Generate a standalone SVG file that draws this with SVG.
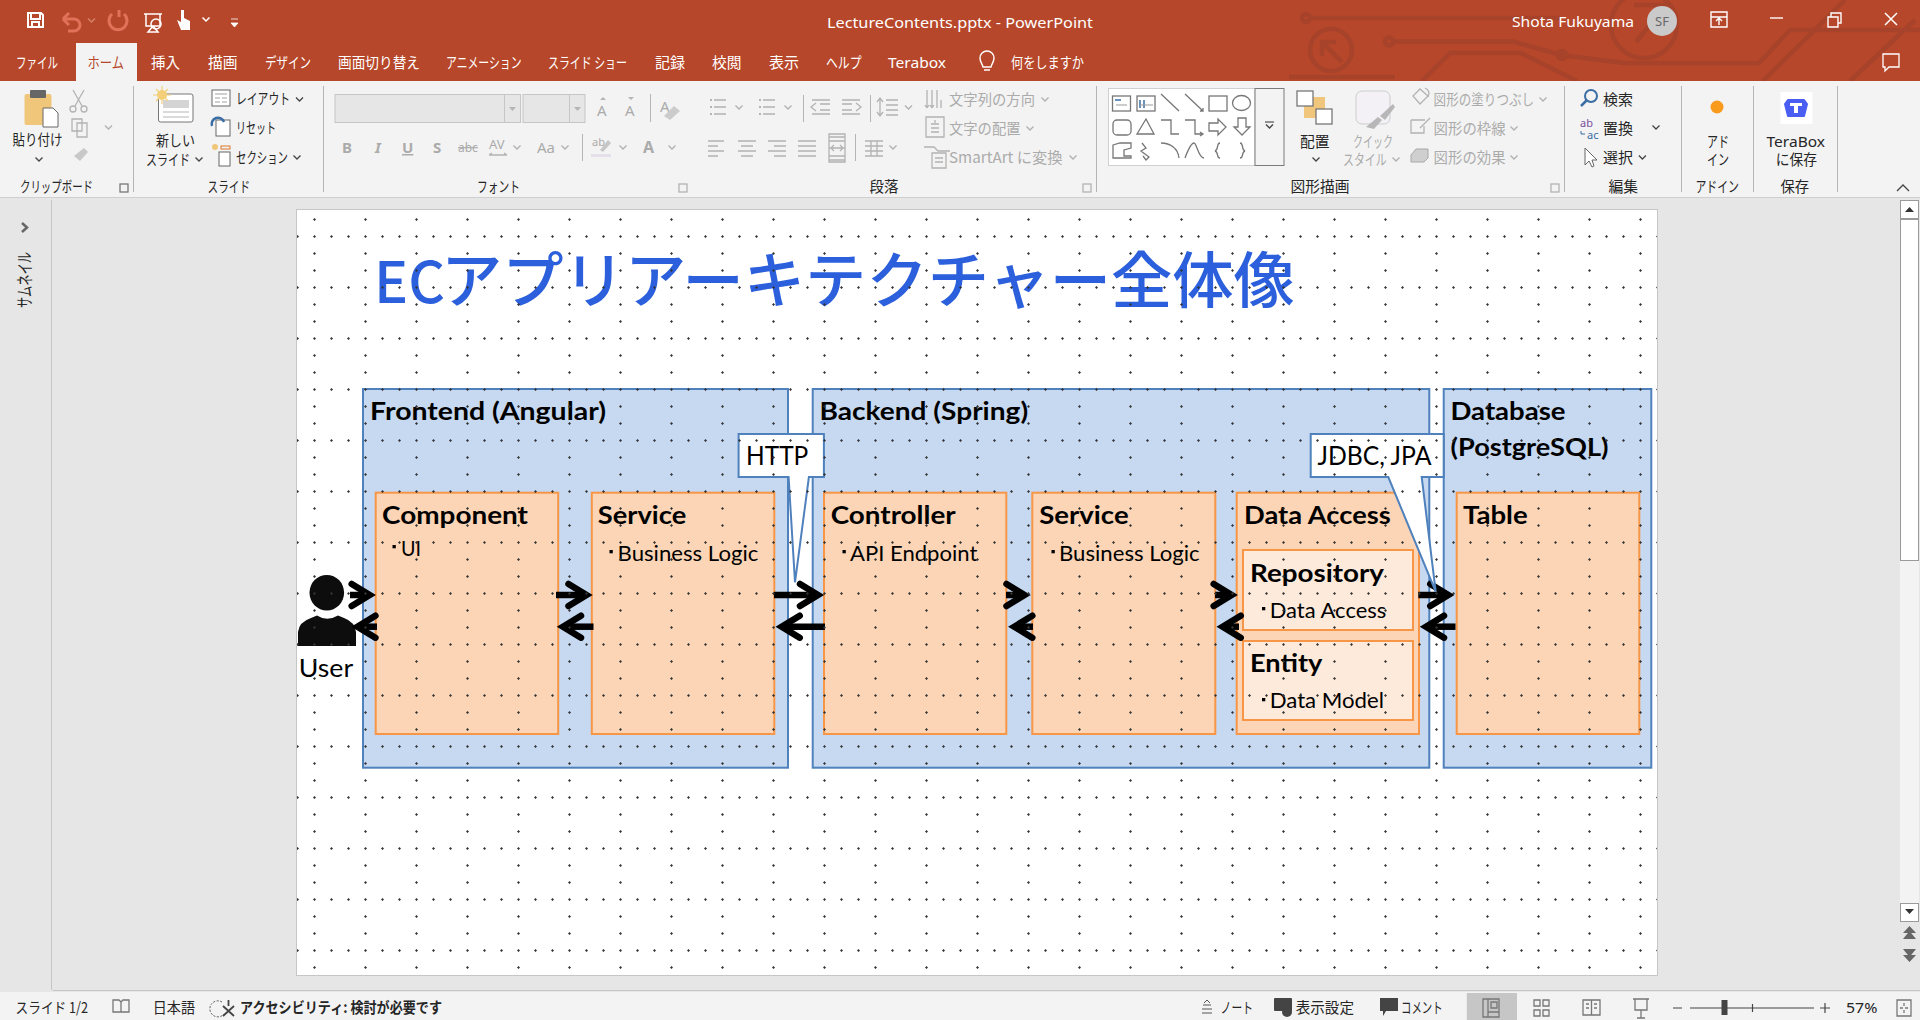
<svg xmlns="http://www.w3.org/2000/svg" width="1920" height="1020" viewBox="0 0 1920 1020">
<style>
text{font-family:"Noto Sans CJK JP","Noto Sans",sans-serif}
.u{font-size:15px;fill:#262626}
.g{font-size:15px;fill:#ababab}
.w{font-size:15px;fill:#fff}
.lat{font-family:"Noto Sans","Noto Sans CJK JP",sans-serif}
.cv{fill:none;stroke:#444;stroke-width:1.3}
.cg{fill:none;stroke:#b0b0b0;stroke-width:1.3}
.sep{stroke:#b5b5b5;stroke-width:1}
.il{fill:none;stroke:#b3b3b3;stroke-width:1.3}
.ik{fill:none;stroke:#777;stroke-width:1.3}
.ci{fill:none;stroke:#a6432a;stroke-width:4.5}
.big{fill:#c6d9f1;stroke:#4f81bd;stroke-width:2}
.box{fill:#fbd5b5;stroke:#f79646;stroke-width:2}
.inn{fill:#fdeada;stroke:#f79646;stroke-width:2}
.call{fill:#fff;stroke:#4f81bd;stroke-width:2}
.h{font-family:Lato,"Noto Sans",sans-serif;font-weight:700;font-size:24.5px;fill:#000}
.b{font-family:Lato,"Noto Sans",sans-serif;font-size:22px;fill:#000}
.c{font-family:Lato,"Noto Sans",sans-serif;font-size:26.5px;fill:#000}
.bul{fill:#000}
.arrow{stroke:#000;stroke-width:6.5;fill:none;marker-end:url(#head)}
</style>
<defs>
<marker id="head" markerUnits="userSpaceOnUse" markerWidth="40" markerHeight="40" viewBox="-30 -20 40 40" refX="0" refY="0" orient="auto">
<path d="M-18,-11 L0,0 L-18,11" fill="none" stroke="#000" stroke-width="6.5" stroke-linecap="round" stroke-miterlimit="10"/>
</marker>
<pattern id="dots" patternUnits="userSpaceOnUse" x="296" y="218" width="51" height="51">
<path d="M1.5,17 L3,18.5 L1.5,20 L0,18.5Z M18.5,17 L20,18.5 L18.5,20 L17,18.5Z M35.5,17 L37,18.5 L35.5,20 L34,18.5Z M18.5,0 L20,1.5 L18.5,3 L17,1.5Z M18.5,34 L20,35.5 L18.5,37 L17,35.5Z" fill="#333"/>
</pattern>
<path id="ch" d="M-3.5,-1.5 L0,2 L3.5,-1.5"/>
<rect id="launch" x="-4" y="-4" width="8" height="8"/>
</defs>

<g id="chrome">
<rect width="1920" height="1020" fill="#e6e6e6"/>
<rect width="1920" height="81" fill="#b7472a"/>
<g class="circuit">
<path class="ci" d="M1310,18H1560M1394,41.500H1513L1561,55L1624,63H1759L1790,30H1920M1422,81L1450,53H1521L1577,81M1289,77H1395M1763,81L1845,0M1850,81L1915,20"/>
<circle class="ci" cx="1306" cy="18" r="4"/><circle class="ci" cx="1389" cy="41.500" r="4"/><circle class="ci" cx="1562" cy="55" r="4"/>
<circle class="ci" cx="1331" cy="50" r="21"/><circle class="ci" cx="1644" cy="25" r="33"/>
<path class="ci" d="M1322,56V42H1336M1322,42L1342,62M1634,5H1666L1636,42"/>
</g>
<rect x="76" y="43" width="61" height="38" fill="#f3f3f3"/>
<rect y="81" width="1920" height="116" fill="#f3f3f3"/>
<path d="M0,197.500H1920" stroke="#cfcfcf"/>
<path d="M51.500,200V990M53,990.500H1920" stroke="#c6c6c6" fill="none"/>
<rect y="992" width="1920" height="28" fill="#f3f3f3"/>

<!-- quick access -->
<path d="M28,13H41L43,15V27H28Z M31,13V19H40V13 M32,27V22H39V27" fill="none" stroke="#fff" stroke-width="2"/>
<path d="M63,19H74A6,6 0 1 1 74,31H68M63,19L69,13M63,19L69,25" fill="none" stroke="#e0725a" stroke-width="3"/>
<use href="#ch" x="91.500" y="20" fill="none" stroke="#d8836c" stroke-width="1.3"/>
<path d="M112,14A9,9 0 1 0 124,14M119,10V17" fill="none" stroke="#e0725a" stroke-width="3"/>
<path d="M144,14H162M146,14V26H160V14M153,26L148,32H158Z" fill="none" stroke="#fff" stroke-width="1.500"/><circle cx="156" cy="24" r="5" fill="none" stroke="#fff" stroke-width="1.500"/>
<path d="M181,10V22L177,20L181,30H190V21L184,18V10Z" fill="#fff"/>
<use href="#ch" x="206" y="19" fill="none" stroke="#fff" stroke-width="1.500"/>
<path d="M231,23H238L234.500,27Z M231,19H238" fill="#fff" stroke="#fff" stroke-width=".8"/>

<!-- title bar texts -->
<text class="w lat" x="827" y="28" textLength="266" lengthAdjust="spacingAndGlyphs">LectureContents.pptx  -  PowerPoint</text>
<text class="w lat" x="1512" y="27" textLength="122" lengthAdjust="spacingAndGlyphs">Shota Fukuyama</text>
<circle cx="1662" cy="21" r="15" fill="#cacaca"/>
<text class="lat" x="1655" y="26" font-size="13" fill="#666">SF</text>
<path d="M1711,12H1727V27H1711ZM1711,17H1727M1719,25V19M1716,21L1719,18L1722,21" fill="none" stroke="#fff" stroke-width="1.400"/>
<path d="M1770,18H1783" stroke="#fff" stroke-width="1.400"/>
<path d="M1828,17H1838V27H1828ZM1831,17V13H1841V23H1838" fill="none" stroke="#fff" stroke-width="1.400"/>
<path d="M1885,13L1897,25M1897,13L1885,25" stroke="#fff" stroke-width="1.500"/>
<path d="M1883,54H1899V67H1889L1885,71V67H1883Z" fill="none" stroke="#fff" stroke-width="1.300"/>

<!-- tabs -->
<text class="w" x="16" y="68" textLength="42" lengthAdjust="spacingAndGlyphs">ファイル</text>
<text x="87.500" y="68" font-size="15" fill="#b7472a" textLength="36.500" lengthAdjust="spacingAndGlyphs">ホーム</text>
<text class="w" x="151" y="68" textLength="29" lengthAdjust="spacingAndGlyphs">挿入</text>
<text class="w" x="208" y="68" textLength="29.500" lengthAdjust="spacingAndGlyphs">描画</text>
<text class="w" x="265" y="68" textLength="46" lengthAdjust="spacingAndGlyphs">デザイン</text>
<text class="w" x="338" y="68" textLength="82" lengthAdjust="spacingAndGlyphs">画面切り替え</text>
<text class="w" x="446" y="68" textLength="75.500" lengthAdjust="spacingAndGlyphs">アニメーション</text>
<text class="w" x="548" y="68" textLength="79" lengthAdjust="spacingAndGlyphs">スライド ショー</text>
<text class="w" x="655" y="68" textLength="30" lengthAdjust="spacingAndGlyphs">記録</text>
<text class="w" x="712" y="68" textLength="29.500" lengthAdjust="spacingAndGlyphs">校閲</text>
<text class="w" x="769" y="68" textLength="30" lengthAdjust="spacingAndGlyphs">表示</text>
<text class="w" x="826" y="68" textLength="35.600" lengthAdjust="spacingAndGlyphs">ヘルプ</text>
<text class="w lat" x="888" y="68" textLength="58" lengthAdjust="spacingAndGlyphs">Terabox</text>
<path d="M983,67C982,63 980,62 980,58A7,7 0 1 1 994,58C994,62 992,63 991,67ZM984,70H990" fill="none" stroke="#fff" stroke-width="1.400"/>
<text class="w" x="1011" y="68" textLength="73" lengthAdjust="spacingAndGlyphs">何をしますか</text>

<!-- ribbon separators -->
<path class="sep" d="M133.500,86V192M323.500,86V192M1096.500,86V192M1564.500,86V192M1681.500,86V192M1753.500,86V192M1837.500,86V192M650.500,94V122M582.500,134V161M803.500,95V122M870.500,95V122M855.500,134V161"/>

<!-- clipboard -->
<rect x="24.500" y="94" width="27" height="31" rx="2" fill="#f0c77a"/>
<rect x="30" y="90" width="16" height="8" rx="1" fill="#666"/>
<path d="M43,108H53L58,113V127H43Z" fill="#fff" stroke="#666"/>
<path d="M73,90L82,106M84,90L75,106" class="il"/><circle class="il" cx="73" cy="109" r="3"/><circle class="il" cx="84" cy="109" r="3"/>
<path class="il" d="M72,119H82V131H72ZM77,123H87V137H77Z"/>
<path d="M74,156L84,148L88,152L80,161Z" fill="#c8c8c8"/>
<use href="#ch" x="108.500" y="127" class="cg"/>
<text class="u" x="12.500" y="145" textLength="50" lengthAdjust="spacingAndGlyphs">貼り付け</text>
<use href="#ch" x="39" y="159" class="cv"/>
<text class="u" x="20" y="192" textLength="73" lengthAdjust="spacingAndGlyphs">クリップボード</text>
<use href="#launch" x="124" y="188" class="ik"/><use href="#launch" x="683" y="188" class="il"/><use href="#launch" x="1087" y="188" class="il"/><use href="#launch" x="1555" y="188" class="il"/>

<!-- slide group -->
<rect x="158.500" y="94" width="34.500" height="28" rx="2" fill="#fff" stroke="#777"/>
<rect x="163" y="100" width="26" height="8" fill="#d4d4d4"/>
<path d="M163,112H189M163,117H189" stroke="#b5b5b5"/>
<circle cx="162" cy="95" r="5" fill="#f4cf7a"/><path d="M162,86V104M153,95H171M156,89L168,101M168,89L156,101" stroke="#f4cf7a" stroke-width="1.200"/>
<text class="u" x="156" y="146" textLength="39" lengthAdjust="spacingAndGlyphs">新しい</text>
<text class="u" x="146" y="165" textLength="44" lengthAdjust="spacingAndGlyphs">スライド</text>
<use href="#ch" x="199" y="159" class="cv"/>
<rect x="212" y="90" width="18" height="16" fill="#fff" stroke="#666"/><path d="M215,94H227M215,98H220M222,98H227M215,102H220M222,102H227" stroke="#a0a0a0"/>
<rect x="216" y="120" width="14" height="16" fill="#fff" stroke="#666"/><path d="M212,126A6,6 0 0 1 224,122" fill="none" stroke="#3a6ea5" stroke-width="2.500"/>
<rect x="219" y="152" width="11" height="14" fill="#fff" stroke="#666"/><rect x="221" y="146" width="9" height="3" fill="none" stroke="#d9772f"/><circle cx="215" cy="147" r="3" fill="#f0c77a"/>
<text class="u" x="236" y="104" textLength="54" lengthAdjust="spacingAndGlyphs">レイアウト</text>
<use href="#ch" x="299.500" y="99" class="cv"/>
<text class="u" x="236" y="133" textLength="40" lengthAdjust="spacingAndGlyphs">リセット</text>
<text class="u" x="236" y="163" textLength="52" lengthAdjust="spacingAndGlyphs">セクション</text>
<use href="#ch" x="297" y="157" class="cv"/>
<text class="u" x="207.600" y="192" textLength="42.400" lengthAdjust="spacingAndGlyphs">スライド</text>

<!-- font group -->
<rect x="335" y="94.500" width="185.500" height="28" fill="#e6e6e6" stroke="#c6c6c6"/>
<rect x="523" y="94.500" width="62" height="28" fill="#e6e6e6" stroke="#c6c6c6"/>
<path d="M504.500,95V122M569.500,95V122" stroke="#c6c6c6"/>
<path d="M509,107H516L512.500,111Z M574,107H581L577.500,111Z" fill="#b5b5b5"/>
<text class="g lat" x="597" y="116">A</text><text class="g lat" x="625" y="116">A</text>
<path d="M600,100L603,97L606,100ZM628,97L631,100L634,97Z" fill="#b5b5b5"/>
<text class="g lat" x="660" y="112">A</text><path d="M664,116L674,106L680,111L670,120Z" fill="#cbcbcb"/>
<text class="g lat" x="342" y="153" font-weight="700">B</text>
<text class="g lat" x="375" y="153" font-style="italic" font-weight="700">I</text>
<text class="g lat" x="402" y="153" font-weight="700" text-decoration="underline">U</text>
<text class="g lat" x="433" y="153" font-weight="700">S</text>
<text class="g lat" x="458" y="152" style="font-size:12px" text-decoration="line-through">abc</text>
<text class="g lat" x="489" y="149" style="font-size:13px">AV</text>
<text class="g lat" x="537" y="153">Aa</text>
<text class="g lat" x="592" y="146" style="font-size:11px">ab</text>
<text class="g lat" x="643" y="153" font-weight="700" style="font-size:16px">A</text>
<path class="il" d="M489,155H507M489,155L492,153M507,155L504,153"/>
<path d="M591,154H611V157H591Z" fill="#e4dfe8"/><path d="M600,150L608,140L611,143L603,152Z" fill="#c6c6c6"/>
<use href="#ch" x="517" y="147" class="cg"/><use href="#ch" x="565" y="147" class="cg"/><use href="#ch" x="623" y="147" class="cg"/><use href="#ch" x="672" y="147" class="cg"/>
<text class="u" x="477" y="192" textLength="43" lengthAdjust="spacingAndGlyphs">フォント</text>

<!-- paragraph group -->
<g class="il">
<path d="M714,100H726M714,107H726M714,114H726M763,100H775M763,107H775M763,114H775"/>
<path d="M812,100H830M812,114H830M820,104H830M820,110H830M816,103L811,107L816,111M842,100H860M842,114H860M842,104H852M842,110H852M856,103L861,107L856,111"/>
<path d="M880,99V115M877,102L880,98L883,102M877,112L880,116L883,112M886,100H898M886,105H898M886,110H898M886,115H898"/>
<path d="M708,141H724M708,146H718M708,151H724M708,156H718M738,141H756M741,146H753M738,151H756M741,156H753M768,141H786M774,146H786M768,151H786M774,156H786M798,141H816M798,146H816M798,151H816M798,156H816"/>
<path d="M829,137H845M829,141H845M829,156H845M829,160H845M829,148H845M831,148L834,145M831,148L834,151M843,148L840,145M843,148L840,151M829,134V162H845V134Z"/>
<path d="M865,141H883M865,146H883M865,151H883M865,156H883M871,141V156M877,141V156"/>
<path d="M927,90V108M932,90V108M937,90V108M941,100V108M927,108L925,105M927,108L929,105M932,108L930,105M932,108L934,105"/>
<path d="M926,117H944V137H926ZM931,124H939M931,128H939M931,132H939M935,120V123"/>
<path d="M924,147L934,147L938,151H950M932,153H946V168H932ZM935,158H943M935,162H943"/>
</g>
<path d="M710,100H712M710,107H712M710,114H712M759,100H761M759,107H761M759,114H761" stroke="#b3b3b3" stroke-width="2"/>
<use href="#ch" x="739" y="107" class="cg"/><use href="#ch" x="788" y="107" class="cg"/><use href="#ch" x="908.500" y="107" class="cg"/><use href="#ch" x="893" y="147" class="cg"/><use href="#ch" x="1045" y="99" class="cg"/><use href="#ch" x="1030" y="128" class="cg"/><use href="#ch" x="1073" y="157" class="cg"/>
<text class="g" x="949" y="105" textLength="86" lengthAdjust="spacingAndGlyphs">文字列の方向</text>
<text class="g" x="949" y="134" textLength="71.500" lengthAdjust="spacingAndGlyphs">文字の配置</text>
<text class="g" x="949" y="163" textLength="113.500" lengthAdjust="spacingAndGlyphs">SmartArt に変換</text>
<text class="u" x="869.600" y="192" textLength="29" lengthAdjust="spacingAndGlyphs">段落</text>

<!-- shapes gallery -->
<rect x="1108.500" y="88.500" width="146.500" height="77" fill="#fff" stroke="#d0d0d0"/>
<rect x="1255" y="88.500" width="29" height="77" fill="#f3f3f3" stroke="#7a7a7a"/>
<path d="M1265,122H1274" stroke="#333"/><use href="#ch" x="1269.500" y="126" class="cv"/>
<g class="ik">
<rect x="1112.500" y="96" width="18" height="15"/><rect x="1137" y="96" width="18" height="15"/>
<path d="M1161,94L1179,111M1185,94L1203,111M1200,111H1203V108"/>
<rect x="1209" y="96" width="18" height="15"/><ellipse cx="1241.500" cy="103" rx="9" ry="7.500"/>
<rect x="1113" y="120" width="18" height="15" rx="4"/><path d="M1137,134L1146,119L1154,134Z"/>
<path d="M1161,120H1171V134H1179M1185,120H1195V134H1202M1200,132L1203,134L1200,136"/>
<path d="M1209,123H1218V119L1226,127L1218,135V131H1209ZM1238,118H1246V127H1250L1242,135L1234,127H1238Z"/>
<path d="M1113,145L1120,143H1131V148L1124,150V156H1131V158H1113ZM1142,143L1146,148L1141,151L1149,157L1146,160L1143,156M1161,143C1170,143 1178,148 1179,158M1185,158C1188,150 1191,143 1194,143C1197,143 1198,158 1204,158"/>
<path d="M1220,143C1216,143 1219,150 1215,151C1219,152 1216,158 1220,158M1240,143C1244,143 1241,150 1245,151C1241,152 1244,158 1240,158"/>
</g>
<path d="M1115,100H1121M1140,100V108M1144,100V108" stroke="#3a6ea5" stroke-width="1.500"/>
<path d="M1116,105H1127M1140,105H1153" stroke="#999"/>

<rect x="1304" y="97" width="21" height="21" fill="#efc67c"/>
<rect x="1297" y="91" width="16" height="15" fill="#fff" stroke="#777" stroke-width="1.300"/>
<rect x="1316" y="109" width="16" height="15" fill="#fff" stroke="#777" stroke-width="1.300"/>
<text class="u" x="1300" y="147" textLength="29.500" lengthAdjust="spacingAndGlyphs">配置</text>
<use href="#ch" x="1316" y="159" class="cv"/>
<rect x="1356" y="91" width="34" height="33" rx="6" fill="#f3f0f6" stroke="#cdcdcd"/>
<path d="M1366,127L1378,117L1382,120L1374,129ZM1380,116L1393,104L1395,107L1385,120Z" fill="#b7b7b7"/>
<text class="g" x="1353" y="147" textLength="40" lengthAdjust="spacingAndGlyphs">クイック</text>
<text class="g" x="1343" y="165" textLength="43.600" lengthAdjust="spacingAndGlyphs">スタイル</text>
<use href="#ch" x="1396" y="159" class="cg"/>
<path class="il" d="M1413,96L1420,89L1428,96L1420,104Z"/><path d="M1425,88A6,6 0 0 1 1428,97" class="il"/>
<path class="il" d="M1411,120H1425M1411,120V133H1424V126M1420,128L1430,118"/>
<path d="M1411,155L1416,149H1428V158L1424,162H1411Z" fill="#cfcfcf" stroke="#a8a8a8"/>
<text class="g" x="1433.600" y="105" textLength="100.400" lengthAdjust="spacingAndGlyphs">図形の塗りつぶし</text>
<text class="g" x="1433.600" y="134" textLength="72" lengthAdjust="spacingAndGlyphs">図形の枠線</text>
<text class="g" x="1433.600" y="163" textLength="72" lengthAdjust="spacingAndGlyphs">図形の効果</text>
<use href="#ch" x="1543" y="99" class="cg"/><use href="#ch" x="1514" y="128" class="cg"/><use href="#ch" x="1514" y="157" class="cg"/>
<text class="u" x="1290.600" y="192" textLength="59" lengthAdjust="spacingAndGlyphs">図形描画</text>

<!-- edit group -->
<circle cx="1591" cy="96" r="6" fill="none" stroke="#3a6ea5" stroke-width="2"/><path d="M1586.500,100.500L1581,106" stroke="#3a6ea5" stroke-width="2.500"/>
<text class="lat" x="1580" y="127" font-size="11" fill="#7a4f9d">ab</text>
<text class="lat" x="1587" y="139" font-size="11" fill="#3a6ea5">ac</text>
<path d="M1581,131V134H1585" fill="none" stroke="#3a6ea5"/>
<path d="M1585,148V165L1589,161L1592,167L1594,166L1592,160H1597Z" fill="#fff" stroke="#666"/>
<text class="u" x="1603" y="105" textLength="30" lengthAdjust="spacingAndGlyphs">検索</text>
<text class="u" x="1603" y="134" textLength="30" lengthAdjust="spacingAndGlyphs">置換</text>
<text class="u" x="1603" y="163" textLength="30" lengthAdjust="spacingAndGlyphs">選択</text>
<use href="#ch" x="1656" y="127" class="cv"/><use href="#ch" x="1642.400" y="157" class="cv"/>
<text class="u" x="1608.400" y="192" textLength="29.600" lengthAdjust="spacingAndGlyphs">編集</text>
<circle cx="1717" cy="107" r="6.500" fill="#f89a1c"/>
<text class="u" x="1707" y="147" textLength="22" lengthAdjust="spacingAndGlyphs">アド</text>
<text class="u" x="1707" y="165" textLength="22" lengthAdjust="spacingAndGlyphs">イン</text>
<text class="u" x="1695.400" y="192" textLength="43.600" lengthAdjust="spacingAndGlyphs">アドイン</text>
<rect x="1780.400" y="92" width="32" height="32" fill="#fff"/>
<path d="M1788,100H1804L1807,104L1804,116H1788L1785,104Z" fill="#4a5ef2" stroke="#4a5ef2" stroke-width="2" stroke-linejoin="round"/>
<path d="M1790,103H1802V106H1798V113H1794V106H1790Z" fill="#fff"/>
<text class="u lat" x="1766.600" y="147" textLength="58.400" lengthAdjust="spacingAndGlyphs">TeraBox</text>
<text class="u" x="1775.700" y="165" textLength="41.300" lengthAdjust="spacingAndGlyphs">に保存</text>
<text class="u" x="1780.400" y="192" textLength="28.600" lengthAdjust="spacingAndGlyphs">保存</text>
<path d="M1897,191L1903,185L1909,191" fill="none" stroke="#444" stroke-width="1.300"/>

<!-- thumbnails pane -->
<path d="M22,223L27,227.500L22,232" fill="none" stroke="#666" stroke-width="2.500"/>
<text class="u" style="font-size:17px" transform="translate(31 308) rotate(-90)" textLength="56" lengthAdjust="spacingAndGlyphs">サムネイル</text>

<!-- scrollbar -->
<rect x="1900" y="200" width="19" height="722" fill="#f3f3f3"/>
<rect x="1900.500" y="200.500" width="18" height="18" fill="#fff" stroke="#9a9a9a"/>
<rect x="1900.500" y="219.500" width="18" height="341" fill="#fff" stroke="#9a9a9a"/>
<rect x="1900.500" y="903.500" width="18" height="18" fill="#fff" stroke="#9a9a9a"/>
<path d="M1905,212H1914L1909.500,207ZM1905,909H1914L1909.500,914Z" fill="#333"/>
<path d="M1909.500,926L1916,933H1903ZM1909.500,931L1916,939H1903ZM1909.500,962L1916,955H1903ZM1909.500,957L1916,949H1903Z" fill="#666"/>

<!-- status bar -->
<text class="u" x="15.600" y="1013" textLength="72.400" lengthAdjust="spacingAndGlyphs">スライド 1/2</text>
<text class="u" x="152.700" y="1013" textLength="42.300" lengthAdjust="spacingAndGlyphs">日本語</text>
<text class="u" x="240" y="1013" font-weight="700" textLength="202" lengthAdjust="spacingAndGlyphs">アクセシビリティ: 検討が必要です</text>
<text class="u" x="1220.600" y="1013" textLength="32.400" lengthAdjust="spacingAndGlyphs">ノート</text>
<text class="u" x="1295.700" y="1013" textLength="58.300" lengthAdjust="spacingAndGlyphs">表示設定</text>
<text class="u" x="1401" y="1013" textLength="41.600" lengthAdjust="spacingAndGlyphs">コメント</text>
<text class="u lat" x="1846" y="1013" textLength="31.400" lengthAdjust="spacingAndGlyphs">57%</text>
<path class="ik" d="M113,1000H119L121,1002L123,1000H129V1012H113ZM121,1002V1012"/>
<path d="M222,1002A8,8 0 1 0 224,1014" fill="none" stroke="#555" stroke-dasharray="2 1.500"/>
<path d="M223,1006L234,1016M234,1006L223,1016M228.500,1000V1006" stroke="#444" stroke-width="1.800"/>
<path d="M1203,1005H1211M1202,1009H1212M1202,1013H1212M1204,1003L1207,1000L1210,1003" stroke="#555" fill="none"/>
<rect x="1274" y="998" width="18" height="13" rx="1" fill="#444"/><circle cx="1287" cy="1012" r="5" fill="#444"/>
<path d="M1380,998H1398V1011H1386L1383,1016V1011H1380Z" fill="#444"/>
<rect x="1466.800" y="993" width="50.200" height="27" fill="#c6c6c6"/>
<g class="ik">
<path d="M1483,999H1499V1017H1483ZM1488,999V1017M1488,1012H1499M1491,1002H1497V1008H1491Z"/>
<path d="M1534,1000H1540V1006H1534ZM1543,1000H1549V1006H1543ZM1534,1010H1540V1016H1534ZM1543,1010H1549V1016H1543Z"/>
<path d="M1583,1000H1600V1015H1583ZM1591.500,1000V1015M1586,1004H1589M1586,1008H1589M1594,1004H1597M1594,1008H1597"/>
<path d="M1633,999H1649M1635,999V1010H1647V999M1641,1010V1018M1637,1018H1645"/>
<path d="M1897,1000H1911V1016H1897ZM1904,1003V1006M1904,1010V1013M1900,1008H1903M1905,1008H1908"/>
</g>
<path d="M1673,1008H1682M1690,1008H1814M1752.500,1004V1012M1820,1008H1830M1825,1003V1013" stroke="#444" stroke-width="1.200"/>
<rect x="1721.500" y="1000" width="6" height="15" fill="#444"/>

<!-- slide -->
<rect x="296.500" y="209.500" width="1361" height="766" fill="#fff" stroke="#c6c6c6"/>
</g>

<text id="slide-title" y="303" font-weight="500" fill="#2b5fdc"><tspan x="374" font-size="57">EC</tspan><tspan x="441" font-size="61.300">アプリアーキテクチャー全体像</tspan></text>

<g id="frontend">
<rect class="big" x="363" y="389" width="425" height="378.700"/>
<text class="h" x="370" y="420" textLength="236" lengthAdjust="spacingAndGlyphs">Frontend (Angular)</text>
</g>
<g id="backend">
<rect class="big" x="812.700" y="389" width="616.600" height="378.700"/>
<text class="h" x="819.500" y="420" textLength="208.600" lengthAdjust="spacingAndGlyphs">Backend (Spring)</text>
</g>
<g id="database">
<rect class="big" x="1443.700" y="389" width="207.600" height="378.700"/>
<text class="h" x="1450.500" y="420" textLength="115" lengthAdjust="spacingAndGlyphs">Database</text>
<text class="h" x="1450.500" y="456" textLength="158" lengthAdjust="spacingAndGlyphs">(PostgreSQL)</text>
</g>
<g id="component">
<rect class="box" x="375.700" y="492.700" width="182.500" height="241.300"/>
<text class="h" x="382" y="524" textLength="146" lengthAdjust="spacingAndGlyphs">Component</text>
<rect class="bul" x="392.500" y="545" width="3.300" height="3.300"/>
<text class="b" x="401" y="555.700" textLength="20" lengthAdjust="spacingAndGlyphs">UI</text>
</g>
<g id="service-front">
<rect class="box" x="591.800" y="492.700" width="182.500" height="241.300"/>
<text class="h" x="597.800" y="524" textLength="88.400" lengthAdjust="spacingAndGlyphs">Service</text>
<rect class="bul" x="609.500" y="550" width="3.300" height="3.300"/>
<text class="b" x="617.600" y="560.700" textLength="140.700" lengthAdjust="spacingAndGlyphs">Business Logic</text>
</g>
<g id="controller">
<rect class="box" x="824" y="492.700" width="182.300" height="241.300"/>
<text class="h" x="830.700" y="524" textLength="125" lengthAdjust="spacingAndGlyphs">Controller</text>
<rect class="bul" x="842.500" y="550" width="3.300" height="3.300"/>
<text class="b" x="850" y="560.700" textLength="127.300" lengthAdjust="spacingAndGlyphs">API Endpoint</text>
</g>
<g id="service-back">
<rect class="box" x="1032.300" y="492.700" width="183" height="241.300"/>
<text class="h" x="1039.300" y="524" textLength="89.300" lengthAdjust="spacingAndGlyphs">Service</text>
<rect class="bul" x="1051.500" y="550" width="3.300" height="3.300"/>
<text class="b" x="1059" y="560.700" textLength="140.700" lengthAdjust="spacingAndGlyphs">Business Logic</text>
</g>
<g id="data-access">
<rect class="box" x="1236.700" y="492.700" width="182.300" height="241.300"/>
<text class="h" x="1244" y="524" textLength="146.700" lengthAdjust="spacingAndGlyphs">Data Access</text>
</g>
<g id="repository">
<rect class="inn" x="1243" y="550" width="170" height="80"/>
<text class="h" x="1250" y="582" textLength="134" lengthAdjust="spacingAndGlyphs">Repository</text>
<rect class="bul" x="1262" y="607" width="3.300" height="3.300"/>
<text class="b" x="1269.700" y="618.300" textLength="116.600" lengthAdjust="spacingAndGlyphs">Data Access</text>
</g>
<g id="entity">
<rect class="inn" x="1243" y="641" width="170" height="79"/>
<text class="h" x="1250" y="672" textLength="72.300" lengthAdjust="spacingAndGlyphs">Entity</text>
<rect class="bul" x="1262" y="698" width="3.300" height="3.300"/>
<text class="b" x="1269.700" y="708.300" textLength="114.300" lengthAdjust="spacingAndGlyphs">Data Model</text>
</g>
<g id="table">
<rect class="box" x="1456.700" y="492.700" width="182.600" height="241.300"/>
<text class="h" x="1463" y="524" textLength="64.700" lengthAdjust="spacingAndGlyphs">Table</text>
</g>
<g id="user">
<ellipse cx="326.800" cy="592.700" rx="17.300" ry="17.800" fill="#0d0d0d"/>
<path d="M298,646V632Q299,622 311,618L317,615.500Q327,622 338,615.500L344,618Q355,622 356,632V646Z" fill="#0d0d0d"/>
<text class="c" style="font-size:24.500px" x="298.800" y="676.500" textLength="54.400" lengthAdjust="spacingAndGlyphs">User</text>
</g>

<g id="connectors">
<path class="arrow" d="M350,595H369.700"/>
<path class="arrow" d="M377,626.700H357.400"/>
<path class="arrow" d="M556,595H586.500"/>
<path class="arrow" d="M593.500,626.700H563"/>
<path class="arrow" d="M774,595H818"/>
<path class="arrow" d="M825,626.700H781.700"/>
<path class="arrow" d="M1006,595H1024.500"/>
<path class="arrow" d="M1033,626.700H1014.300"/>
<path class="arrow" d="M1215,595H1231.700"/>
<path class="arrow" d="M1239,626.700H1222.700"/>
<path class="arrow" d="M1418.300,595H1448.300"/>
<path class="arrow" d="M1455.500,626.700H1426"/>
</g>

<g id="callout-http">
<path class="call" d="M738.600,434H823.900V477H808.900L795,582.300L788.600,477H738.600Z"/>
<text class="c" x="746" y="465" textLength="62.300" lengthAdjust="spacingAndGlyphs">HTTP</text>
</g>
<g id="callout-jdbc">
<path class="call" d="M1310.700,434H1443.700V477H1421.700L1435.700,591.700L1388.300,477H1310.700Z"/>
<text class="c" x="1317.500" y="465" textLength="114" lengthAdjust="spacingAndGlyphs">JDBC, JPA</text>
</g>

<rect id="grid" x="297" y="210" width="1360" height="765" fill="url(#dots)"/>
</svg>
